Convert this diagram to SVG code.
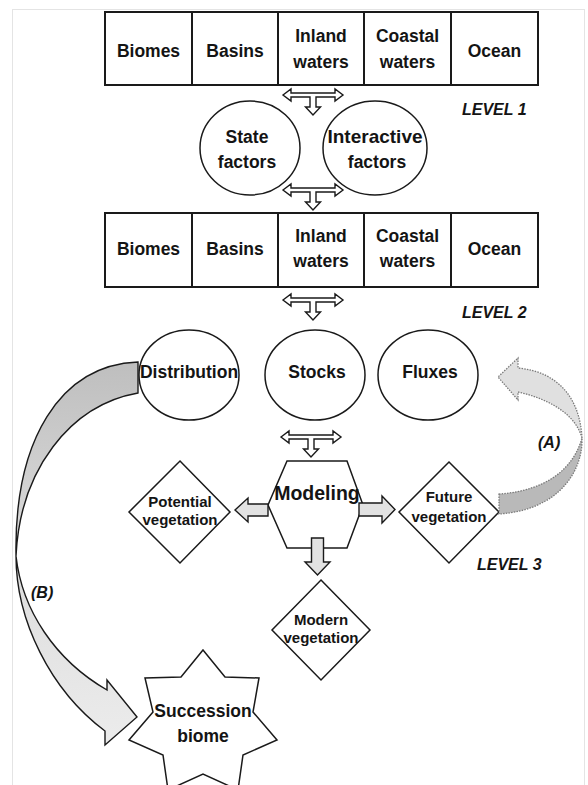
<svg xmlns="http://www.w3.org/2000/svg" xmlns:xlink="http://www.w3.org/1999/xlink" width="588" height="785" viewBox="0 0 588 785">
<style>
  text { font-family: "Liberation Sans", Arial, sans-serif; font-weight: bold; fill: #141414; text-anchor: middle; }
  .t { font-size: 17.5px; }
  .s { font-size: 15px; }
  .lvl { font-size: 16px; font-style: italic; text-anchor: start; }
  .cell { fill: #fff; stroke: #1a1a1a; stroke-width: 2; }
  .shape { fill: #fff; stroke: #1a1a1a; stroke-width: 1.5; }
  .tarrow { fill: #fff; stroke: #1a1a1a; stroke-width: 1.4; stroke-linejoin: miter; }
  .block { fill: #e2e2e2; stroke: #1a1a1a; stroke-width: 1.4; }
  .curveB { stroke: #1a1a1a; stroke-width: 1.4; }
  .curveA { stroke: #7a7a7a; stroke-width: 1.3; stroke-dasharray: 1.5 1.2; }
</style>
<defs>
  <path id="tarr" d="M-30,0 L-22,-6 L-22,-2 L22,-2 L22,-6 L30,0 L22,6 L22,2 L3,2 L3,12 L7.5,12 L0,20 L-7.5,12 L-3,12 L-3,2 L-22,2 L-22,6 Z"/>
  <linearGradient id="gB" gradientUnits="userSpaceOnUse" x1="0" y1="360" x2="0" y2="745">
    <stop offset="0" stop-color="#bebebe"/>
    <stop offset="0.5" stop-color="#dcdcdc"/>
    <stop offset="1" stop-color="#ececec"/>
  </linearGradient>
</defs>

<rect x="12.5" y="9.5" width="572" height="790" fill="none" stroke="#e4e4e4" stroke-width="1"/>

<!-- Level 1 table -->
<g id="l1-biomes"><rect class="cell" x="105" y="12" width="87" height="73"/><text class="t" x="148.5" y="57">Biomes</text></g>
<g id="l1-basins"><rect class="cell" x="192" y="12" width="86" height="73"/><text class="t" x="235" y="57">Basins</text></g>
<g id="l1-inland"><rect class="cell" x="278" y="12" width="86" height="73"/><text class="t" x="321" y="42">Inland</text><text class="t" x="321" y="68">waters</text></g>
<g id="l1-coastal"><rect class="cell" x="364" y="12" width="87" height="73"/><text class="t" x="407.5" y="42">Coastal</text><text class="t" x="407.5" y="68">waters</text></g>
<g id="l1-ocean"><rect class="cell" x="451" y="12" width="87" height="73"/><text class="t" x="494.5" y="57">Ocean</text></g>

<g id="state-factors"><ellipse class="shape" cx="250" cy="148" rx="50" ry="47"/><text class="t" x="247" y="143">State</text><text class="t" x="247" y="168">factors</text></g>
<g id="interactive-factors"><ellipse class="shape" cx="375" cy="148" rx="52" ry="47"/><text class="t" x="375" y="143" style="font-size:19px">Interactive</text><text class="t" x="377" y="168">factors</text></g>

<!-- Level 2 table -->
<g id="l2-biomes"><rect class="cell" x="105" y="213" width="87" height="74"/><text class="t" x="148.5" y="255">Biomes</text></g>
<g id="l2-basins"><rect class="cell" x="192" y="213" width="86" height="74"/><text class="t" x="235" y="255">Basins</text></g>
<g id="l2-inland"><rect class="cell" x="278" y="213" width="86" height="74"/><text class="t" x="321" y="242">Inland</text><text class="t" x="321" y="267">waters</text></g>
<g id="l2-coastal"><rect class="cell" x="364" y="213" width="87" height="74"/><text class="t" x="407.5" y="242">Coastal</text><text class="t" x="407.5" y="267">waters</text></g>
<g id="l2-ocean"><rect class="cell" x="451" y="213" width="87" height="74"/><text class="t" x="494.5" y="255">Ocean</text></g>

<g id="distribution"><ellipse class="shape" cx="189" cy="375" rx="50" ry="45"/><text class="t" x="189" y="378">Distribution</text></g>
<g id="stocks"><ellipse class="shape" cx="315" cy="375" rx="50" ry="45"/><text class="t" x="317" y="378">Stocks</text></g>
<g id="fluxes"><ellipse class="shape" cx="428" cy="375" rx="50" ry="45"/><text class="t" x="430" y="378">Fluxes</text></g>

<!-- Level 3 -->
<g id="modeling"><polygon class="shape" points="287,461 347,461 363,505 347,548 287,548 268,505"/></g>
<g id="potential-vegetation"><polygon class="shape" points="180,461 230,512 180,563 129,512"/><text class="s" x="180" y="507">Potential</text><text class="s" x="180" y="525">vegetation</text></g>
<g id="future-vegetation"><polygon class="shape" points="449,462 499,512 449,563 399,512"/><text class="s" x="449" y="502">Future</text><text class="s" x="449" y="522">vegetation</text></g>
<g id="modern-vegetation"><polygon class="shape" points="321,580 370,630 321,680 272,630"/><text class="s" x="321" y="625">Modern</text><text class="s" x="321" y="643">vegetation</text></g>
<g id="succession-biome"><polygon class="shape" points="203,650 225,677 259,678 253,712 277,740 243,755 238,790 203,774 168,790 163,755 129,740 153,712 145,678 181,677"/><text class="t" x="203" y="717">Succession</text><text class="t" x="203" y="742">biome</text></g>

<!-- connectors -->
<g id="connectors">
  <use href="#tarr" xlink:href="#tarr" class="tarrow" transform="translate(313,95)"/>
  <use href="#tarr" xlink:href="#tarr" class="tarrow" transform="translate(313,190)"/>
  <use href="#tarr" xlink:href="#tarr" class="tarrow" transform="translate(313,300)"/>
  <use href="#tarr" xlink:href="#tarr" class="tarrow" transform="translate(311,437)"/>
  <path class="block" d="M268,504 L248,504 L248,498 L235,510 L248,522 L248,516 L268,516 Z"/>
  <path class="block" d="M359,503 L382,503 L382,496 L395,509.5 L382,523 L382,516 L359,516 Z"/>
  <path class="block" d="M311.5,538 L323.5,538 L323.5,562 L330,562 L317.5,575 L305,562 L311.5,562 Z"/>
  <!-- (B) curved arrow -->
  <path class="curveB" fill="url(#gB)" d="M138,362 C60,365 14,440 16,556 C20,470 70,405 138,393 Z"/>
  <path class="curveB" fill="url(#gB)" d="M16,556 C22,610 55,660 107,690 L107,680 L137,717 L105,745 L105,731 C50,690 16,620 16,556 Z"/>
  <!-- (A) curved arrow -->
  <path class="curveA" fill="#b9b9b9" d="M499,494 C530,492 570,480 582,438 C583,470 560,510 499,514 Z"/>
  <path class="curveA" fill="#e0e0e0" d="M582,438 C580,400 560,372 518,368 L518,358 L498,377 L518,400 L518,392 C545,398 575,412 582,438 Z"/>
</g>

<text x="317" y="500" style="font-size:19.5px">Modeling</text>

<text class="lvl" x="462" y="115">LEVEL 1</text>
<text class="lvl" x="462" y="318">LEVEL 2</text>
<text class="lvl" x="477" y="570">LEVEL 3</text>
<text class="lvl" x="538" y="448">(A)</text>
<text class="lvl" x="31" y="598">(B)</text>
</svg>
